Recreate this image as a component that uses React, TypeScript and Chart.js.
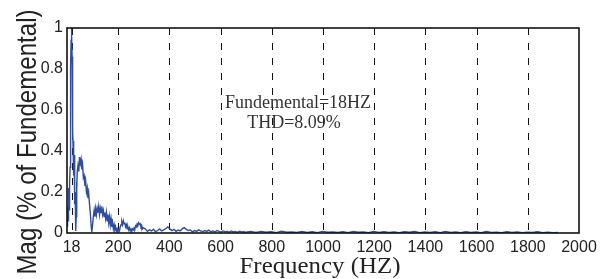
import React, { useEffect, useRef } from "react";
import { Chart, registerables } from "chart.js";

Chart.register(...registerables);

// Tick positions / labels
const xTickValues = [18, 200, 400, 600, 800, 1000, 1200, 1400, 1600, 1800, 2000];
const yTickValues = [0, 0.2, 0.4, 0.6, 0.8, 1];

// Titles and annotation text
const xTitle = "Frequency (HZ)";
const yTitle = "Mag (% of Fundemental)";
const noteLine1 = "Fundemental=18HZ";
const noteLine2 = "THD=8.09%";

// Spectrum magnitude, in segments of uniform frequency step
// 0..40 Hz, 1 Hz step
const magFine = [
  0.05, 0.09, 0.03, 0.13, 0.06, 0.18, 0.1, 0.22, 0.13, 0.2,
  0.11, 0.24, 0.32, 0.46, 0.63, 0.8, 0.94, 1.0, 1.0, 0.96,
  0.86, 0.72, 0.6, 0.5, 0.41, 0.35, 0.45, 0.28, 0.38, 0.2,
  0.3, 0.14, 0.2, 0.07, 0.02, 0.01, 0.08, 0.17, 0.25, 0.21,
  0.3,
];
// ~43..298 Hz, 3 Hz step
const magLow = [
  0.33, 0.3, 0.37, 0.34, 0.36, 0.31, 0.33, 0.27, 0.28, 0.23,
  0.25, 0.2, 0.22, 0.17, 0.19, 0.14, 0.1, 0.04, 0.005, 0.04,
  0.08, 0.11, 0.08, 0.12, 0.09, 0.12, 0.1, 0.13, 0.09, 0.12,
  0.1, 0.13, 0.09, 0.11, 0.08, 0.1, 0.07, 0.1, 0.06, 0.09,
  0.05, 0.08, 0.04, 0.07, 0.03, 0.05, 0.02, 0.04, 0.015, 0.03,
  0.01, 0.02, 0.005, 0.015, 0.01, 0.03, 0.04, 0.055, 0.04, 0.06,
  0.045, 0.05, 0.03, 0.04, 0.02, 0.03, 0.015, 0.025, 0.01, 0.02,
  0.01, 0.02, 0.015, 0.025, 0.02, 0.035, 0.03, 0.045, 0.04, 0.05,
  0.042, 0.045, 0.03, 0.035, 0.02, 0.025,
];
// ~306..698 Hz, 8 Hz step
const magMid = [
  0.02, 0.008, 0.015, 0.01, 0.018, 0.006, 0.012, 0.02, 0.01, 0.015,
  0.022, 0.03, 0.02, 0.012, 0.018, 0.008, 0.014, 0.01, 0.02, 0.026,
  0.018, 0.012, 0.015, 0.006, 0.012, 0.008, 0.015, 0.01, 0.006, 0.012,
  0.008, 0.014, 0.006, 0.01, 0.005, 0.012, 0.008, 0.004, 0.01, 0.006,
  0.008, 0.004, 0.01, 0.005, 0.007, 0.003, 0.009, 0.005, 0.006, 0.004,
];
// ~718..1918 Hz, 20 Hz step
const magHigh = [
  0.007, 0.003, 0.008, 0.004, 0.006, 0.002, 0.009, 0.004, 0.005, 0.003,
  0.007, 0.003, 0.006, 0.002, 0.008, 0.004, 0.005, 0.003, 0.006, 0.002,
  0.007, 0.004, 0.005, 0.002, 0.008, 0.003, 0.006, 0.003, 0.005, 0.002,
  0.006, 0.004, 0.007, 0.002, 0.005, 0.003, 0.006, 0.002, 0.008, 0.003,
  0.005, 0.002, 0.006, 0.003, 0.005, 0.002, 0.007, 0.003, 0.004, 0.002,
  0.006, 0.003, 0.005, 0.002, 0.004, 0.003, 0.006, 0.002, 0.004, 0.002,
  0.003,
];
const segmentSteps = [1, 3, 8, 20];
const segmentValues = [magFine, magLow, magMid, magHigh];

function buildPoints() {
  const pts: { x: number; y: number }[] = [];
  let f = 0;
  segmentValues.forEach((vals, si) => {
    const step = segmentSteps[si];
    if (si > 0) f += step;
    vals.forEach((v, i) => {
      if (i > 0) f += step;
      pts.push({ x: f, y: v });
    });
  });
  return pts;
}

const LINE_COLOR = "#2f4c9f";
const TEXT_COLOR = "#222";

const decorPlugin = {
  id: "decor",
  beforeDatasetsDraw(chart: any) {
    const { ctx, chartArea, scales } = chart;
    const xs = scales.x;
    ctx.save();
    ctx.strokeStyle = "#111";
    ctx.lineWidth = 1;
    ctx.setLineDash([7, 8]);
    xTickValues.forEach((v) => {
      if (v >= 2000) return;
      const px = Math.round(xs.getPixelForValue(v)) + 0.5;
      ctx.beginPath();
      ctx.moveTo(px, chartArea.top);
      ctx.lineTo(px, chartArea.bottom);
      ctx.stroke();
    });
    ctx.restore();
  },
  afterDatasetsDraw(chart: any) {
    const { ctx, chartArea } = chart;
    ctx.save();
    ctx.strokeStyle = "#111";
    ctx.lineWidth = 1.6;
    ctx.strokeRect(chartArea.left, chartArea.top, chartArea.right - chartArea.left, chartArea.bottom - chartArea.top);
    ctx.restore();
  },
  afterDraw(chart: any) {
    const { ctx, chartArea } = chart;
    ctx.save();
    ctx.fillStyle = TEXT_COLOR;
    // y title
    ctx.save();
    ctx.translate(36, 142);
    ctx.rotate(-Math.PI / 2);
    ctx.font = '28px "Liberation Sans", Arial, sans-serif';
    ctx.textAlign = "center";
    ctx.textBaseline = "alphabetic";
    ctx.fillText(yTitle, 0, 0, 265);
    ctx.restore();
    // x title
    ctx.save();
    ctx.font = '23px "Liberation Serif", "Times New Roman", serif';
    const w = ctx.measureText(xTitle).width;
    const cx = (chartArea.left + chartArea.right) / 2 - 3;
    ctx.translate(cx, 273);
    ctx.scale(161 / w, 1);
    ctx.textAlign = "center";
    ctx.textBaseline = "alphabetic";
    ctx.fillText(xTitle, 0, 0);
    ctx.restore();
    // annotation
    ctx.font = '18px "Liberation Serif", "Times New Roman", serif';
    ctx.fillStyle = "#333";
    ctx.textAlign = "center";
    ctx.textBaseline = "alphabetic";
    ctx.fillText(noteLine1, 298, 108);
    ctx.fillText(noteLine2, 294, 128);
    ctx.restore();
  },
};

export default function App() {
  const ref = useRef<HTMLCanvasElement | null>(null);
  useEffect(() => {
    document.body.style.margin = "0";
    const canvas = ref.current;
    if (!canvas) return;
    const tickFont = { family: '"Liberation Sans", Arial, sans-serif', size: 16 };
    const chart = new Chart(canvas, {
      type: "line",
      data: {
        datasets: [
          {
            data: buildPoints(),
            borderColor: LINE_COLOR,
            borderWidth: 1.4,
            pointRadius: 0,
            tension: 0,
            fill: false,
          },
        ],
      },
      options: {
        responsive: false,
        animation: false,
        layout: { padding: { top: 28, right: 26, left: 0, bottom: 0 } },
        plugins: { legend: { display: false }, tooltip: { enabled: false } },
        scales: {
          x: {
            type: "linear",
            min: 0,
            max: 2000,
            afterBuildTicks: (s: any) => {
              s.ticks = xTickValues.map((v) => ({ value: v }));
            },
            afterFit: (s: any) => {
              s.height = 46;
            },
            ticks: {
              autoSkip: false,
              maxRotation: 0,
              minRotation: 0,
              padding: 5,
              font: tickFont,
              color: TEXT_COLOR,
              callback: (v: any) => String(v),
            },
            grid: { display: false, drawTicks: false },
            border: { display: false },
          },
          y: {
            type: "linear",
            min: 0,
            max: 1,
            afterBuildTicks: (s: any) => {
              s.ticks = yTickValues.map((v) => ({ value: v }));
            },
            afterFit: (s: any) => {
              s.width = 67;
            },
            ticks: {
              padding: 4,
              font: tickFont,
              color: TEXT_COLOR,
              callback: (v: any) => (v === 0 ? "0" : v === 1 ? "1" : Number(v).toFixed(1)),
            },
            grid: { display: false, drawTicks: false },
            border: { display: false },
          },
        },
      },
      plugins: [decorPlugin],
    } as any);
    return () => chart.destroy();
  }, []);
  return <canvas ref={ref} width={605} height={279} style={{ display: "block", width: 605, height: 279 }} />;
}
